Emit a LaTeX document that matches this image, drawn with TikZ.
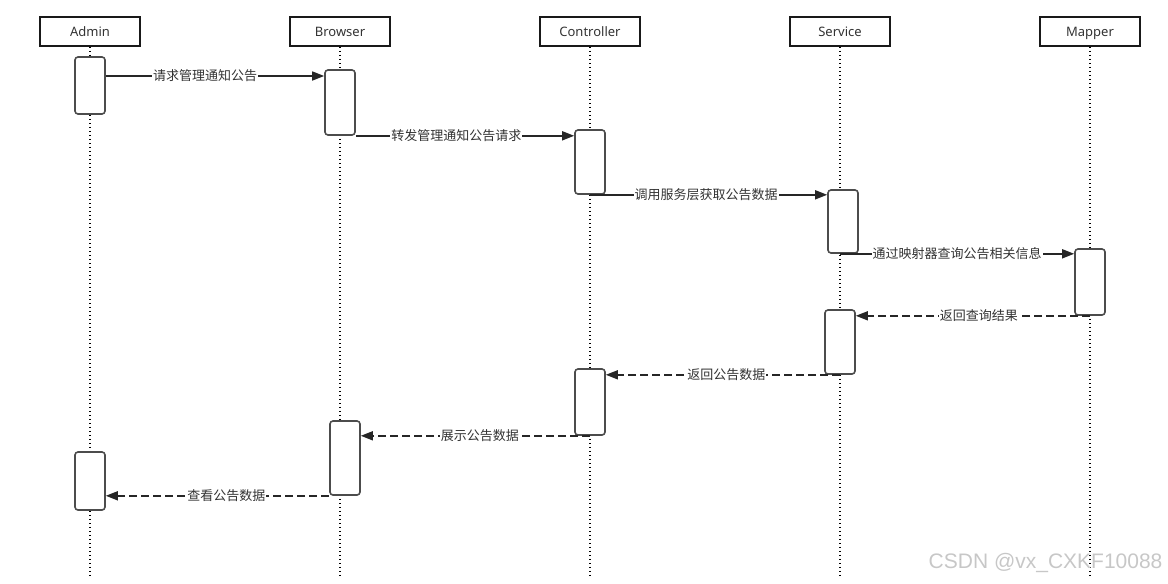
\documentclass[tikz,border=0pt]{standalone}
\usepackage{fontspec}
\setmainfont{Noto Sans}
\newfontfamily\cjk{Noto Sans CJK SC}
\newfontfamily\markfont{Liberation Sans}
\usetikzlibrary{arrows.meta}

\begin{document}
\begin{tikzpicture}[x=1pt, y=-1pt,
            every node/.style={font=\cjk\fontsize{13}{15}\selectfont, text=black!80},
            actor/.style={draw=black!90, line width=1.6pt, minimum width=100pt, minimum height=29pt, inner sep=0pt, text height=10.5pt, text depth=1.5pt, font=\fontsize{13}{15}\selectfont},
            act/.style={draw=black!70, line width=1.6pt, rounded corners=3pt, fill=white, minimum width=30pt, inner sep=0pt},
            lifeline/.style={line width=1.6pt, dash pattern=on 1.6pt off 2.4pt},
            msg/.style={line width=1.5pt, draw=black!85, -{Triangle[length=12pt,width=9pt]}},
            reply/.style={msg, dash pattern=on 8pt off 4pt},
            lbl/.style={fill=white, inner sep=1pt}]
    \useasboundingbox (0,0) rectangle (1168,584);
    % lifelines
    \foreach \n/\x/\name in {admin/90/Admin, browser/340/Browser, controller/590/Controller, service/840/Service, mapper/1090/Mapper} {
        \node [actor] (\n) at (\x,31.5) {\name};
        \coordinate (\n-end) at (\x,575);
        \draw [lifeline] (\n) -- (\n-end);
    }
    % activations
    \node [act, minimum height=57pt] (a1) at (90,85.5) {};
    \node [act, minimum height=65pt] (b1) at (340,102.5) {};
    \node [act, minimum height=64pt] (c1) at (590,162) {};
    \node [act, minimum height=63pt] (s1) at (843,221.5) {};
    \node [act, minimum height=66pt] (m1) at (1090,282) {};
    \node [act, minimum height=64pt] (s2) at (840,342) {};
    \node [act, minimum height=66pt] (c2) at (590,402) {};
    \node [act, minimum height=74pt] (b2) at (345,458) {};
    \node [act, minimum height=58pt] (a2) at (90,481) {};
    % requests
    \draw [msg] (a1.east |- 0,76) -- node [lbl, pos=0.455] {请求管理通知公告} (b1.west |- 0,76);
    \draw [msg] (b1.south east) -- node [lbl, pos=0.46] {转发管理通知公告请求} (c1.west |- b1.south east);
    \draw [msg] (c1.south) -- node [lbl, pos=0.49] {调用服务层获取公告数据} (s1.west |- c1.south);
    \draw [msg] (s1.south -| service) -- node [lbl] {通过映射器查询公告相关信息} (m1.west |- s1.south);
    % replies
    \draw [reply] (m1.south) -- node [lbl, pos=0.475] {返回查询结果} (s2.east |- m1.south);
    \draw [reply] (s2.south) -- node [lbl, pos=0.485] {返回公告数据} (c2.east |- s2.south);
    \draw [reply] (c2.south) -- node [lbl, pos=0.48] {展示公告数据} (b2.east |- c2.south);
    \draw [reply] (b2.south west) -- node [lbl, pos=0.46] {查看公告数据} (a2.east |- b2.south west);
    \node [anchor=east, text=black!22, font=\markfont\fontsize{21}{23}\selectfont] (mark) at (1166,563) {CSDN @vx\_CXKF10088};
\end{tikzpicture}
\end{document}
